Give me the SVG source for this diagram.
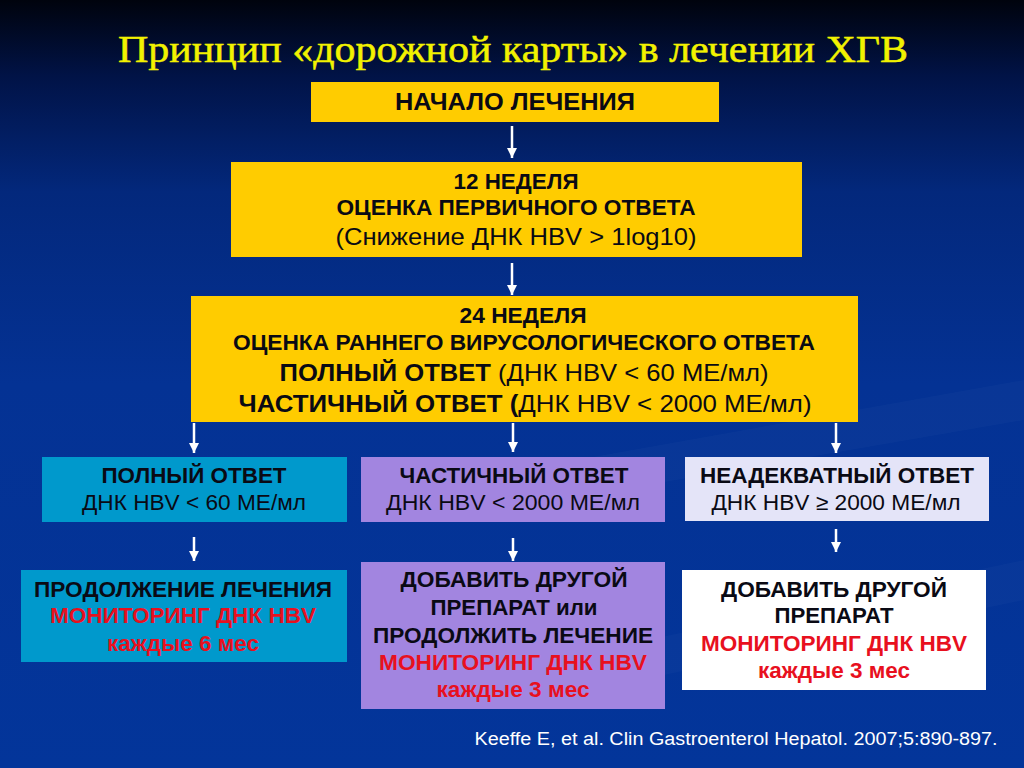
<svg xmlns="http://www.w3.org/2000/svg" width="1024" height="768" viewBox="0 0 1024 768">
<defs>
<linearGradient id="bg" x1="0" y1="0" x2="0" y2="1">
<stop offset="0" stop-color="#00030d"/>
<stop offset="0.1" stop-color="#011347"/>
<stop offset="0.25" stop-color="#03287c"/>
<stop offset="0.5" stop-color="#043294"/>
<stop offset="1" stop-color="#03359a"/>
</linearGradient>
<marker id="ah" markerUnits="userSpaceOnUse" markerWidth="10" markerHeight="10" refX="10" refY="5" orient="auto">
<path d="M0,0 L10,5 L0,10 z" fill="#ffffff"/>
</marker>
<style>
.t{font-family:"Liberation Sans",Arial,sans-serif;text-anchor:middle;fill:#0a0a14}
.b{font-weight:bold}
.r{fill:#e8101e}
.title{font-family:"Liberation Serif","Times New Roman",serif;font-size:37px;fill:#f2f200;stroke:#f2f200;stroke-width:0.5;text-anchor:middle}
.yel{fill:#ffcc00}
.cy{fill:#0099cc}
.pu{fill:#a285e0}
.lv{fill:#e4e4f8}
.wh{fill:#ffffff}
.ar{stroke:#ffffff;stroke-width:2.5;fill:none;marker-end:url(#ah)}
.cite{font-family:"Liberation Sans",Arial,sans-serif;font-size:18px;fill:#ffffff;text-anchor:middle}
</style>
</defs>
<rect x="0" y="0" width="1024" height="768" fill="url(#bg)"/>
<path d="M520,470 L1024,380 L1024,420 L560,500 z" fill="#ffffff" opacity="0.025"/>
<path d="M600,650 L1024,560 L1024,600 L640,680 z" fill="#ffffff" opacity="0.025"/>

<text id="title" class="title" x="513" y="62" textLength="790" lengthAdjust="spacingAndGlyphs">Принцип «дорожной карты» в лечении ХГВ</text>

<g id="start">
<rect class="yel" x="311" y="82" width="408" height="40"/>
<text class="t b" x="515" y="110" font-size="23" textLength="240" lengthAdjust="spacingAndGlyphs">НАЧАЛО ЛЕЧЕНИЯ</text>
</g>

<g id="week12">
<rect class="yel" x="231" y="162" width="571" height="95"/>
<text class="t b" x="516" y="189" font-size="21.5" textLength="125" lengthAdjust="spacingAndGlyphs">12 НЕДЕЛЯ</text>
<text class="t b" x="516" y="215" font-size="21.5" textLength="359" lengthAdjust="spacingAndGlyphs">ОЦЕНКА ПЕРВИЧНОГО ОТВЕТА</text>
<text class="t" x="516" y="245" font-size="24" textLength="361" lengthAdjust="spacingAndGlyphs">(Снижение ДНК HBV &gt; 1log10)</text>
</g>

<g id="week24">
<rect class="yel" x="191" y="296" width="667" height="126"/>
<text class="t b" x="523" y="323" font-size="21.5" textLength="127" lengthAdjust="spacingAndGlyphs">24 НЕДЕЛЯ</text>
<text class="t b" x="524" y="350" font-size="21.5" textLength="582" lengthAdjust="spacingAndGlyphs">ОЦЕНКА РАННЕГО ВИРУСОЛОГИЧЕСКОГО ОТВЕТА</text>
<text class="t" x="524" y="381" font-size="24" textLength="489" lengthAdjust="spacingAndGlyphs"><tspan class="b">ПОЛНЫЙ ОТВЕТ</tspan> (ДНК HBV &lt; 60 МЕ/мл)</text>
<text class="t" x="525" y="412" font-size="24" textLength="573" lengthAdjust="spacingAndGlyphs"><tspan class="b">ЧАСТИЧНЫЙ ОТВЕТ (</tspan>ДНК HBV  &lt; 2000 МЕ/мл)</text>
</g>

<g id="full">
<rect class="cy" x="42" y="457" width="305" height="65"/>
<text class="t b" x="194" y="483" font-size="22" textLength="185" lengthAdjust="spacingAndGlyphs">ПОЛНЫЙ ОТВЕТ</text>
<text class="t" x="194" y="510" font-size="22" textLength="224" lengthAdjust="spacingAndGlyphs">ДНК HBV &lt; 60 МЕ/мл</text>
</g>

<g id="partial">
<rect class="pu" x="361" y="457" width="304" height="65"/>
<text class="t b" x="514" y="483" font-size="22" textLength="229" lengthAdjust="spacingAndGlyphs">ЧАСТИЧНЫЙ ОТВЕТ</text>
<text class="t" x="513" y="510" font-size="22" textLength="254" lengthAdjust="spacingAndGlyphs">ДНК HBV  &lt; 2000 МЕ/мл</text>
</g>

<g id="inadequate">
<rect class="lv" x="685" y="457" width="304" height="64"/>
<text class="t b" x="837" y="483" font-size="22" textLength="274" lengthAdjust="spacingAndGlyphs">НЕАДЕКВАТНЫЙ ОТВЕТ</text>
<text class="t" x="836" y="510" font-size="22" textLength="249" lengthAdjust="spacingAndGlyphs">ДНК HBV ≥ 2000 МЕ/мл</text>
</g>

<g id="continue">
<rect class="cy" x="21" y="570" width="326" height="92"/>
<text class="t b" x="183" y="597" font-size="22" textLength="298" lengthAdjust="spacingAndGlyphs">ПРОДОЛЖЕНИЕ ЛЕЧЕНИЯ</text>
<text class="t b r" x="183" y="623" font-size="22" textLength="266" lengthAdjust="spacingAndGlyphs">МОНИТОРИНГ ДНК HBV</text>
<text class="t b r" x="183" y="651" font-size="22" textLength="152" lengthAdjust="spacingAndGlyphs">каждые 6 мес</text>
</g>

<g id="add-or-continue">
<rect class="pu" x="361" y="562" width="304" height="147"/>
<text class="t b" x="514" y="587" font-size="22" textLength="227" lengthAdjust="spacingAndGlyphs">ДОБАВИТЬ ДРУГОЙ</text>
<text class="t b" x="514" y="615" font-size="22" textLength="167" lengthAdjust="spacingAndGlyphs">ПРЕПАРАТ или</text>
<text class="t b" x="513" y="643" font-size="22" textLength="280" lengthAdjust="spacingAndGlyphs">ПРОДОЛЖИТЬ ЛЕЧЕНИЕ</text>
<text class="t b r" x="513" y="670" font-size="22" textLength="268" lengthAdjust="spacingAndGlyphs">МОНИТОРИНГ ДНК HBV</text>
<text class="t b r" x="513" y="697" font-size="22" textLength="153" lengthAdjust="spacingAndGlyphs">каждые 3 мес</text>
</g>

<g id="add">
<rect class="wh" x="682" y="570" width="304" height="120"/>
<text class="t b" x="834" y="597" font-size="22" textLength="226" lengthAdjust="spacingAndGlyphs">ДОБАВИТЬ ДРУГОЙ</text>
<text class="t b" x="834" y="623" font-size="22" textLength="119" lengthAdjust="spacingAndGlyphs">ПРЕПАРАТ</text>
<text class="t b r" x="834" y="651" font-size="22" textLength="266" lengthAdjust="spacingAndGlyphs">МОНИТОРИНГ ДНК HBV</text>
<text class="t b r" x="834" y="678" font-size="22" textLength="152" lengthAdjust="spacingAndGlyphs">каждые 3 мес</text>
</g>

<g id="connectors">
<line class="ar" x1="512" y1="126" x2="512" y2="158"/>
<line class="ar" x1="512" y1="263" x2="512" y2="295"/>
<line class="ar" x1="194" y1="423" x2="194" y2="453"/>
<line class="ar" x1="513" y1="423" x2="513" y2="452"/>
<line class="ar" x1="836" y1="423" x2="836" y2="453"/>
<line class="ar" x1="194" y1="537" x2="194" y2="561"/>
<line class="ar" x1="513" y1="538" x2="513" y2="561"/>
<line class="ar" x1="836" y1="529" x2="836" y2="552"/>
</g>

<text id="citation" class="cite" x="736" y="745" textLength="523" lengthAdjust="spacingAndGlyphs">Keeffe E, et al. Clin Gastroenterol Hepatol. 2007;5:890-897.</text>
</svg>
